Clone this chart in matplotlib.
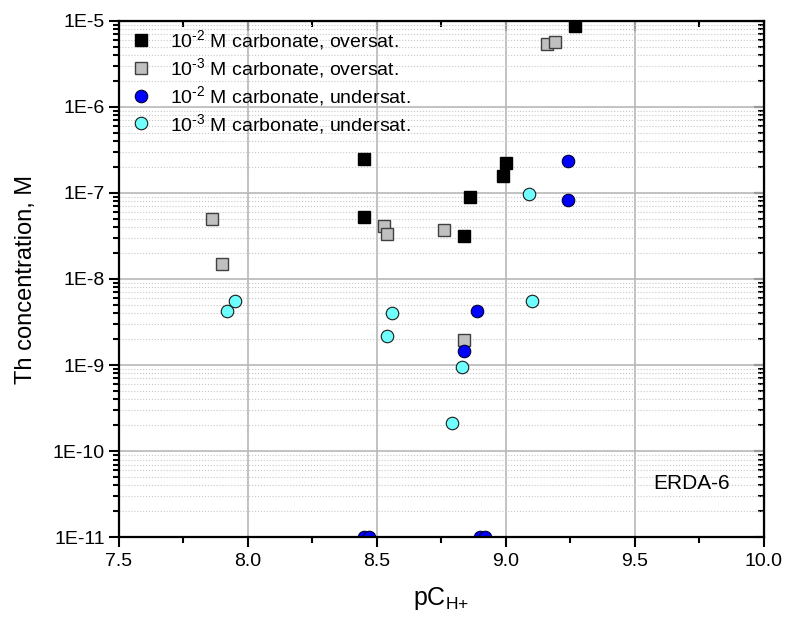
import matplotlib
matplotlib.use("Agg")
import matplotlib.pyplot as plt
from matplotlib.ticker import LogLocator, FuncFormatter, MultipleLocator
import numpy as np

plt.rcParams['font.family'] = ['Liberation Sans', 'DejaVu Sans']
plt.rcParams['mathtext.fontset'] = 'custom'
plt.rcParams['mathtext.rm'] = 'Liberation Sans'
plt.rcParams['mathtext.it'] = 'Liberation Sans'

# 10^-2 M carbonate, oversaturation
ph_c2_over = [9.27, 8.45, 8.45, 9.00, 8.99, 8.86, 8.84]
th_c2_over = [8.7e-6, 2.5e-7, 5.2e-8, 2.25e-7, 1.58e-7, 9.0e-8, 3.15e-8]

# 10^-3 M carbonate, oversaturation
ph_c3_over = [9.16, 9.19, 8.53, 8.54, 8.76, 7.86, 7.90, 8.84]
th_c3_over = [5.4e-6, 5.6e-6, 4.1e-8, 3.3e-8, 3.7e-8, 5.0e-8, 1.5e-8, 1.95e-9]

# 10^-2 M carbonate, undersaturation (1E-11 = below detection)
ph_c2_under = [9.24, 9.24, 8.89, 8.84, 8.45, 8.47, 8.90, 8.92]
th_c2_under = [2.35e-7, 8.2e-8, 4.2e-9, 1.45e-9, 1e-11, 1e-11, 1e-11, 1e-11]

# 10^-3 M carbonate, undersaturation
ph_c3_under = [7.92, 7.95, 8.56, 8.54, 8.83, 8.79, 9.10, 9.09]
th_c3_under = [4.2e-9, 5.6e-9, 4.0e-9, 2.2e-9, 9.6e-10, 2.1e-10, 5.6e-9, 9.8e-8]

labels = ['10$^{\\mathregular{\u2010}\\mathregular{2}}$ M carbonate, oversat.',
          '10$^{\\mathregular{\u2010}\\mathregular{3}}$ M carbonate, oversat.',
          '10$^{\\mathregular{\u2010}\\mathregular{2}}$ M carbonate, undersat.',
          '10$^{\\mathregular{\u2010}\\mathregular{3}}$ M carbonate, undersat.']

fig = plt.figure(figsize=(7.85, 6.17), dpi=100)
ax = fig.add_axes([0.1512, 0.1292, 0.8217, 0.8373])

ax.plot(ph_c2_over, th_c2_over, 's', ms=8, mfc='black', mec='black', mew=1, label=labels[0])
ax.plot(ph_c3_over, th_c3_over, 's', ms=8, mfc='#C0C0C0', mec='#404040', mew=1, label=labels[1])
ax.plot(ph_c2_under, th_c2_under, 'o', ms=9, mfc='#0000FF', mec='#000033', mew=0.8, label=labels[2])
ax.plot(ph_c3_under, th_c3_under, 'o', ms=9, mfc='#70FFFF', mec='#1a1a1a', mew=0.8, label=labels[3])

ax.set_yscale('log')
ax.set_xlim(7.5, 10.0)
ax.set_ylim(1e-11, 1e-5)

ax.xaxis.set_major_locator(MultipleLocator(0.5))
ax.xaxis.set_minor_locator(MultipleLocator(0.25))
ax.xaxis.set_major_formatter(FuncFormatter(lambda v, p: f'{v:.1f}'))
ax.yaxis.set_major_locator(LogLocator(base=10, numticks=20))
ax.yaxis.set_minor_locator(LogLocator(base=10, subs=np.arange(2, 10), numticks=20))
ax.yaxis.set_major_formatter(FuncFormatter(lambda v, p: f'1E{int(round(np.log10(v)))}'))

ax.grid(True, which='major', color='#B8B8B8', lw=1.2, ls='-')
ax.grid(True, which='minor', axis='y', color='#C8C8C8', lw=0.8, ls=':')
ax.set_axisbelow(True)

for s in ax.spines.values():
    s.set_linewidth(1.6)

ax.tick_params(which='both', labelsize=14, width=1.5)
ax.tick_params(which='major', length=7)
ax.tick_params(which='minor', length=4)
ax.tick_params(axis='x', which='both', direction='out', pad=4, top=False)
ax.tick_params(axis='y', which='both', direction='out', pad=3, right=False)

# inward ticks on the top and right side
ax_top = ax.secondary_xaxis('top')
ax_top.xaxis.set_major_locator(MultipleLocator(0.5))
ax_top.xaxis.set_minor_locator(MultipleLocator(0.25))
ax_top.tick_params(which='both', direction='in', labeltop=False, width=1.5)
ax_top.tick_params(which='major', length=7)
ax_top.tick_params(which='minor', length=4)
ax_right = ax.secondary_yaxis('right')
ax_right.yaxis.set_major_locator(LogLocator(base=10, numticks=20))
ax_right.yaxis.set_minor_locator(LogLocator(base=10, subs=np.arange(2, 10), numticks=20))
ax_right.tick_params(which='both', direction='in', labelright=False, width=1.5)
ax_right.tick_params(which='major', length=7)
ax_right.tick_params(which='minor', length=4)

ax.set_xlabel(r'pC$_{\mathregular{H{+}}}$', fontsize=18, labelpad=11)
ax.set_ylabel('Th concentration, M', fontsize=17, labelpad=11)

ax.legend(loc='upper left', bbox_to_anchor=(0.02, 0.985), frameon=False, fontsize=14,
          borderaxespad=0, borderpad=0, handlelength=1.0, handletextpad=0.95,
          labelspacing=0.2, numpoints=1)

ax.text(0.888, 0.1045, 'ERDA-6', transform=ax.transAxes, fontsize=15,
        ha='center', va='center')

fig.savefig('out.png', dpi=100)
